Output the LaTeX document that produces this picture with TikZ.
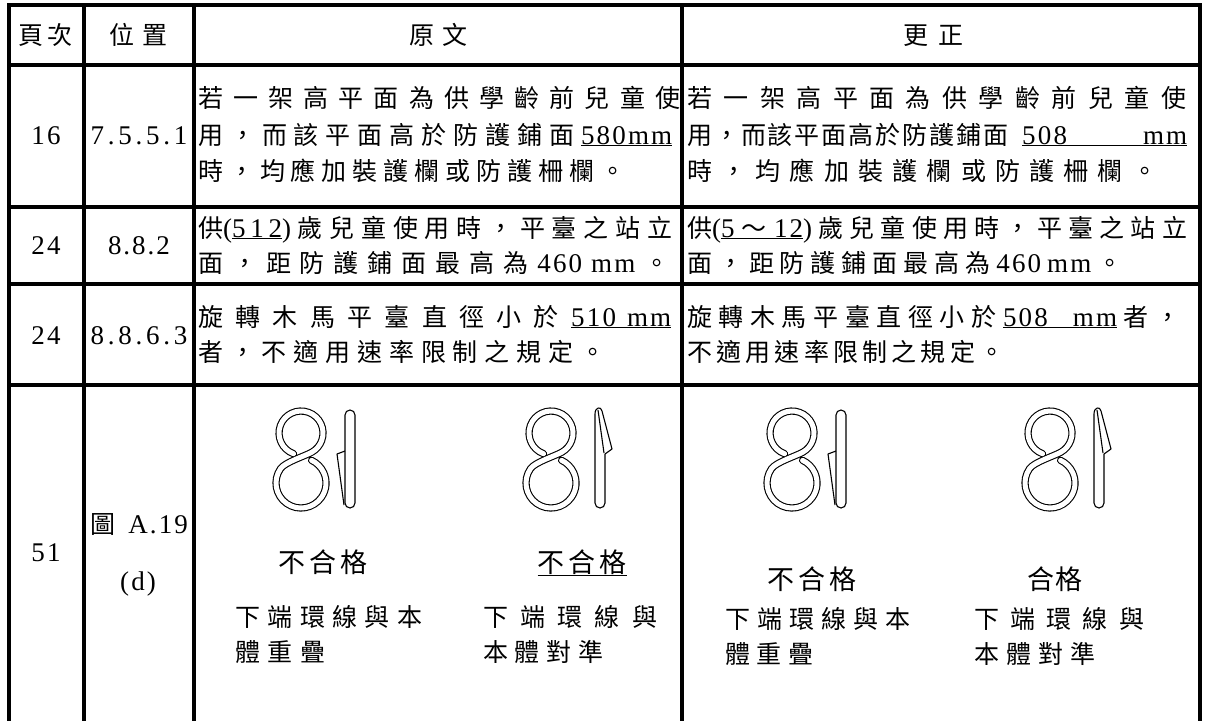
\documentclass[tikz,border=0pt]{standalone}
\usepackage{fontspec}
\setmainfont{Noto Sans CJK TC}
\newfontfamily\tms[LetterSpace=8,Scale=1.08]{Liberation Serif}
% spread a list of pieces over a given width
\newcommand\spr[2]{\makebox[#1][s]{\foreach \ch [count=\k] in {#2}{\ifnum\k>1 \hfill\fi\ch}}}

\begin{document}
\begin{tikzpicture}[x=1pt, y=-1pt,
    rule/.style={line width=3.2pt},
    txt/.style={inner sep=0pt, anchor=west, font=\fontsize{25}{30}\selectfont, text height=21pt, text depth=3pt},
    ctr/.style={txt, anchor=center},
    big/.style={ctr, font=\fontsize{27}{32}\selectfont},
    wire/.style={double=white, double distance=5pt, line width=1.1pt, line cap=round},
    rod/.style={line width=1.1pt, line join=round}]
    \useasboundingbox (0,0) rectangle (1207,720);
    % table rules
    \draw [rule] (9,722) -- (9,5) -- (1200,5) -- (1200,722);
    \foreach \x in {84,194,682} \draw [rule] (\x,5) -- (\x,722);
    \foreach \y in {65,207,284,385} \draw [rule] (9,\y) -- (1200,\y);
    % header
    \node [ctr] (hpage) at (45,35) {\spr{54pt}{頁,次}};
    \node [ctr] (hpos) at (138,35) {\spr{58pt}{位,置}};
    \node [ctr] (horig) at (438,35) {\spr{58pt}{原,文}};
    \node [ctr] (hcorr) at (933,35) {\spr{60pt}{更,正}};
    % page and position
    \node [ctr] (p1) at (46,135) {\tms 16};
    \node [ctr] (s1) at (139,135) {\tms\spr{97pt}{7,.,5,.,5,.,1}};
    \node [ctr] (p2) at (46,245) {\tms 24};
    \node [ctr] (s2) at (139,245) {\tms\spr{62pt}{8,.,8,.,2}};
    \node [ctr] (p3) at (46,335) {\tms 24};
    \node [ctr] (s3) at (139,335) {\tms\spr{97pt}{8,.,8,.,6,.,3}};
    \node [ctr] (p4) at (46,552) {\tms 51};
    \node [ctr] (s4a) at (139,524) {\makebox[98pt][s]{圖\hfill{\tms A.19}}};
    \node [ctr] (s4b) at (138,581) {\tms (d)};
    % row 1
    \node [txt] (o1a) at (198,98) {\spr{482pt}{若,一,架,高,平,面,為,供,學,齡,前,兒,童,使}};
    \node [txt] (o1b) at (198,135) {\spr{474pt}{用,，,而,該,平,面,高,於,防,護,鋪,面,{\tms\underline{580mm}}}};
    \node [txt] (o1c) at (198,171) {\spr{427pt}{時,，,均,應,加,裝,護,欄,或,防,護,柵,欄,。}};
    \node [txt] (c1a) at (687,98) {\spr{499pt}{若,一,架,高,平,面,為,供,學,齡,前,兒,童,使}};
    \node [txt] (c1b) at (687,135) {\spr{500pt}{用,，,而,該,平,面,高,於,防,護,鋪,面,{\hspace{12pt}\tms\underline{\makebox[165pt][s]{508\hfill mm}}}}};
    \node [txt] (c1c) at (687,171) {\spr{470pt}{時,，,均,應,加,裝,護,欄,或,防,護,柵,欄,。}};
    % row 2
    \node [txt] (o2a) at (198,228) {\spr{474pt}{{供\tms(\underline{\makebox[50pt][s]{5\hfill1\hfill2}})},歲,兒,童,使,用,時,，,平,臺,之,站,立}};
    \node [txt] (o2b) at (198,263) {\spr{471pt}{面,，,距,防,護,鋪,面,最,高,為,{\tms 460},{\tms mm},。}};
    \node [txt] (c2a) at (687,228) {\spr{500pt}{{供\tms(\underline{\makebox[82pt][s]{5\hfill{\rmfamily ～}\hfill12}})},歲,兒,童,使,用,時,，,平,臺,之,站,立}};
    \node [txt] (c2b) at (687,263) {\spr{435pt}{面,，,距,防,護,鋪,面,最,高,為,{\tms 460},{\tms mm},。}};
    % row 3
    \node [txt] (o3a) at (198,317) {\spr{473pt}{旋,轉,木,馬,平,臺,直,徑,小,於,{\tms\underline{\makebox[100pt][s]{510\hfill mm}}}}};
    \node [txt] (o3b) at (198,352) {\spr{407pt}{者,，,不,適,用,速,率,限,制,之,規,定,。}};
    \node [txt] (c3a) at (687,317) {\spr{493pt}{旋,轉,木,馬,平,臺,直,徑,小,於,{\tms\underline{\makebox[114pt][s]{508\hfill mm}}},者,，}};
    \node [txt] (c3b) at (687,352) {\spr{317pt}{不,適,用,速,率,限,制,之,規,定,。}};
    % row 4: hooks
    \foreach \hx in {301,551,792,1050} {
        \draw [wire, shift={(\hx,457)}] (-7.5,-3.3) arc [start angle=110, end angle=420, radius=22]
            .. controls (4,-0.95) and (-15.9,5.1) .. (-20.48,11.66)
            arc [start angle=215, end angle=-65, radius=25];
    }
    \foreach \hx in {301,792} {
        \draw [rod, shift={(\hx,457)}] (44,-42) arc [start angle=180, end angle=360, radius=5]
            -- (54,46) arc [start angle=0, end angle=180, radius=5] -- cycle;
        \draw [rod, shift={(\hx,457)}] (44,-6) -- (36,-3) -- (43,48);
    }
    \foreach \hx in {551,1050} {
        \draw [rod, shift={(\hx,457)}] (44,-43) .. controls (44,-50) and (50,-51) .. (51,-46)
            -- (61,-8) -- (54,-3) -- (54,46) arc [start angle=0, end angle=180, radius=5] -- cycle;
        \draw [rod, shift={(\hx,457)}] (47,-47) -- (53,-4);
    }
    % row 4: labels
    \node [big] (o4a) at (323,563) {\spr{90pt}{不,合,格}};
    \node [txt] (o4b) at (235,617) {\spr{187pt}{下,端,環,線,與,本}};
    \node [txt] (o4c) at (235,652) {\spr{90pt}{體,重,疊}};
    \node [big] (o4d) at (582,563) {\underline{\spr{89pt}{不,合,格}}};
    \node [txt] (o4e) at (483,617) {\spr{174pt}{下,端,環,線,與}};
    \node [txt] (o4f) at (483,652) {\spr{120pt}{本,體,對,準}};
    \node [big] (c4a) at (812,580) {\spr{89pt}{不,合,格}};
    \node [txt] (c4b) at (725,619) {\spr{185pt}{下,端,環,線,與,本}};
    \node [txt] (c4c) at (725,654) {\spr{88pt}{體,重,疊}};
    \node [big] (c4d) at (1055,580) {\spr{55pt}{合,格}};
    \node [txt] (c4e) at (974,619) {\spr{170pt}{下,端,環,線,與}};
    \node [txt] (c4f) at (974,654) {\spr{121pt}{本,體,對,準}};
\end{tikzpicture}
\end{document}
